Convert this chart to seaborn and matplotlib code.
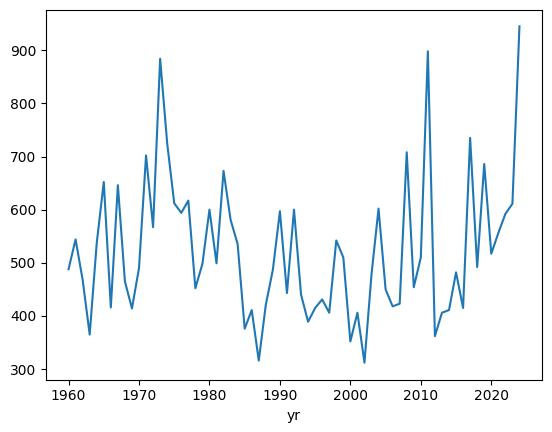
import matplotlib
matplotlib.use("Agg")
import matplotlib.pyplot as plt
import seaborn as sns
import pandas as pd

years = list(range(1960, 2025))
values = [488, 544, 468, 365, 537, 652, 416, 646, 465, 414,
          490, 702, 567, 884, 725, 612, 594, 617, 452, 498,
          600, 499, 673, 581, 535, 376, 411, 316, 421, 487,
          597, 443, 600, 440, 389, 415, 431, 406, 542, 510,
          352, 406, 312, 478, 602, 450, 418, 423, 708, 454,
          510, 898, 362, 406, 411, 482, 415, 735, 492, 686,
          517, 556, 592, 611, 945]

df = pd.DataFrame({"yr": years, "value": values})

fig = plt.figure(figsize=(5.52, 4.32), dpi=100)
ax = fig.add_axes([46/552, 1 - 379.5/432, 496/552, 370/432])
sns.lineplot(data=df, x="yr", y="value", ax=ax, color="#1f77b4")
ax.set_ylabel("")
ax.set_xlabel("yr")
fig.savefig("out.png", dpi=100)
